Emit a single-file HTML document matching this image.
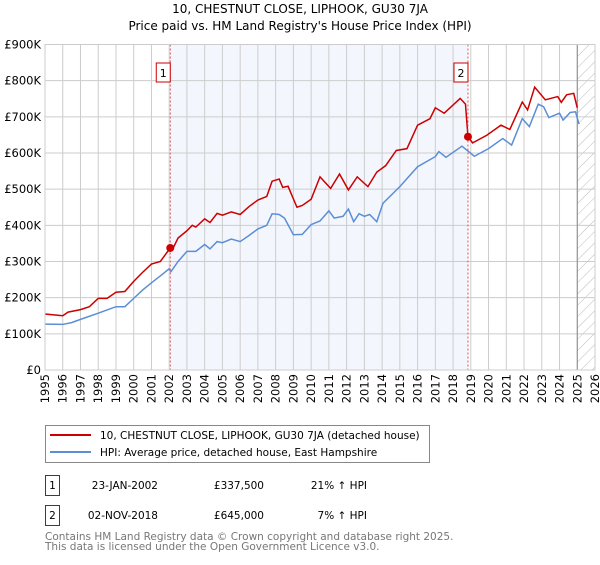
<!DOCTYPE html>
<html><head><meta charset="utf-8"><style>
body{margin:0;background:#fff;font-family:"Liberation Sans","DejaVu Sans",sans-serif;}
svg text{font-family:"DejaVu Sans","Liberation Sans",sans-serif;}
</style></head><body>
<svg id="chart" width="600" height="560" viewBox="0 0 600 560">
<defs><pattern id="hatch" width="8" height="8" patternUnits="userSpaceOnUse" patternTransform="rotate(45)"><line x1="0" y1="0" x2="0" y2="8" stroke="#bbb" stroke-width="1"/></pattern></defs>
<text x="300" y="13" text-anchor="middle" font-size="12" fill="#000">10, CHESTNUT CLOSE, LIPHOOK, GU30 7JA</text>
<text x="300" y="30" text-anchor="middle" font-size="12" fill="#000">Price paid vs. HM Land Registry's House Price Index (HPI)</text>
<g id="plot"></g>
<g>
<rect x="45.5" y="425.5" width="384" height="37" fill="#fff" stroke="#888"/>
<line x1="50" y1="435" x2="91" y2="435" stroke="#cc0000" stroke-width="2"/>
<text x="100" y="439" font-size="10.5">10, CHESTNUT CLOSE, LIPHOOK, GU30 7JA (detached house)</text>
<line x1="50" y1="452" x2="91" y2="452" stroke="#5b8ed6" stroke-width="2"/>
<text x="100" y="456" font-size="10.5">HPI: Average price, detached house, East Hampshire</text>
</g>
<g font-size="10.5">
<rect x="45.5" y="475.5" width="14" height="20" fill="#fff" stroke="#cc0000"/><text x="52.5" y="489" text-anchor="middle">1</text>
<text x="158" y="489" text-anchor="end">23-JAN-2002</text><text x="264" y="489" text-anchor="end">£337,500</text><text x="367" y="489" text-anchor="end">21% ↑ HPI</text>
<rect x="45.5" y="505.5" width="14" height="20" fill="#fff" stroke="#cc0000"/><text x="52.5" y="519" text-anchor="middle">2</text>
<text x="158" y="519" text-anchor="end">02-NOV-2018</text><text x="264" y="519" text-anchor="end">£645,000</text><text x="367" y="519" text-anchor="end">7% ↑ HPI</text>
</g>
<text x="45" y="540" font-size="10.5" fill="#777">Contains HM Land Registry data © Crown copyright and database right 2025.</text>
<text x="45" y="550" font-size="10.5" fill="#777">This data is licensed under the Open Government Licence v3.0.</text>
</svg>
<script>
const yTicks=[0,100,200,300,400,500,600,700,800,900];
const yTickLabels=["£0","£100K","£200K","£300K","£400K","£500K","£600K","£700K","£800K","£900K"];
const years=[1995,1996,1997,1998,1999,2000,2001,2002,2003,2004,2005,2006,2007,2008,2009,2010,2011,2012,2013,2014,2015,2016,2017,2018,2019,2020,2021,2022,2023,2024,2025,2026];
const hpiT=[1995,1996,1996.5,1997,1998,1999,1999.5,2000,2000.5,2001,2001.5,2002,2002.1,2002.5,2003,2003.5,2004,2004.3,2004.7,2005,2005.5,2006,2006.5,2007,2007.5,2007.8,2008.2,2008.5,2009,2009.5,2010,2010.5,2011,2011.3,2011.8,2012.1,2012.4,2012.7,2013,2013.3,2013.7,2014.05,2015,2016,2017,2017.2,2017.6,2018.5,2019.2,2020,2020.8,2021.3,2021.9,2022.3,2022.8,2023.1,2023.4,2024,2024.2,2024.6,2024.9,2025.1];
const hpiV=[127,126,131,140,157,175,175,198,221,241,260,280,272,300,328,328,347,335,355,352,362,355,372,390,400,432,430,420,374,375,402,412,440,420,425,445,410,432,425,430,410,461,507,562,590,604,588,619,591,612,640,622,695,673,735,728,698,710,691,712,714,680];
const propT=[1995,1996,1996.3,1997,1997.5,1998,1998.5,1999,1999.5,2000,2000.5,2001,2001.5,2002.06,2002.2,2002.5,2003,2003.3,2003.5,2004,2004.3,2004.7,2005,2005.5,2006,2006.5,2007,2007.5,2007.8,2008.2,2008.4,2008.7,2009.2,2009.5,2010,2010.5,2011.1,2011.6,2012.1,2012.6,2013.2,2013.7,2014.2,2014.8,2015.4,2016,2016.7,2017,2017.5,2018.4,2018.7,2018.84,2019.1,2019.9,2020.7,2021.2,2021.9,2022.2,2022.6,2023.2,2023.9,2024.1,2024.4,2024.8,2025];
const propV=[155,150,160,167,175,198,198,215,217,245,270,293,300,337.5,335,365,385,400,395,418,408,433,428,437,430,452,470,480,522,528,505,508,450,455,472,534,502,542,498,534,507,547,565,607,612,677,695,725,710,751,735,645,628,649,677,665,741,719,782,747,756,740,761,765,725];
const saleT=[2002.06,2018.84];
const saleV=[337.5,645];
const saleLabels=["1","2"];

const X0=45,X1=595,Y0=370,Y1=44.5;
const xs=t=>X0+(t-1995)/(2026-1995)*(X1-X0);
const ys=v=>Y0-v/900*(Y0-Y1);
const NS="http://www.w3.org/2000/svg";
const g=document.getElementById('plot');
function mk(tag,attrs,parent){const e=document.createElementNS(NS,tag);for(const k in attrs)e.setAttribute(k,attrs[k]);(parent||g).appendChild(e);return e;}

let r=mk('rect',{x:xs(saleT[0]),y:Y1,width:xs(saleT[1])-xs(saleT[0]),height:Y0-Y1,fill:'#eef3fc',opacity:0.7});


r=mk('rect',{x:xs(2025.0),y:Y1,width:X1-xs(2025.0),height:Y0-Y1,fill:'url(#hatch)'});


years.forEach(y=>{const l=mk('line',{x1:xs(y),x2:xs(y),y1:Y1,y2:Y0,stroke:'#ccc','stroke-width':1});


const t=mk('text',{x:0,y:0,'font-size':11.5,'text-anchor':'end',transform:`translate(${xs(y)+4},${Y0+4}) rotate(-90)`});
t.textContent=y;

});
yTicks.forEach((v,i)=>{const l=mk('line',{x1:X0,x2:X1,y1:ys(v),y2:ys(v),stroke:'#ccc','stroke-width':1});


const t=mk('text',{x:X0-4,y:ys(v)+4,'font-size':11.5,'text-anchor':'end'});
t.textContent=yTickLabels[i];

});
let vl=mk('line',{x1:xs(2025.0),x2:xs(2025.0),y1:Y1,y2:Y0,stroke:'#888','stroke-width':1});


let hp=mk('polyline',{points:hpiT.map((t,i)=>xs(t)+','+ys(hpiV[i])).join(' '),fill:'none',stroke:'#5b8ed6','stroke-width':1.5});


let pp=mk('polyline',{points:propT.map((t,i)=>xs(t)+','+ys(propV[i])).join(' '),fill:'none',stroke:'#cc0000','stroke-width':1.5});


saleT.forEach((t,i)=>{
const d=mk('line',{x1:xs(t),x2:xs(t),y1:Y1,y2:Y0,stroke:'#dd5555','stroke-width':1,'stroke-dasharray':'2,2'});


const c=mk('circle',{cx:xs(t),cy:ys(saleV[i]),r:4,fill:'#cc0000'});


const b=mk('rect',{x:xs(t)-14,y:63,width:14,height:19,fill:'#fff',stroke:'#cc0000'});


const tx=mk('text',{x:xs(t)-7,y:77,'font-size':11,'text-anchor':'middle'});
tx.textContent=saleLabels[i];

});
let fr=mk('rect',{x:X0,y:Y1,width:X1-X0,height:Y0-Y1,fill:'none',stroke:'#ccc'});


</script>
</body></html>
